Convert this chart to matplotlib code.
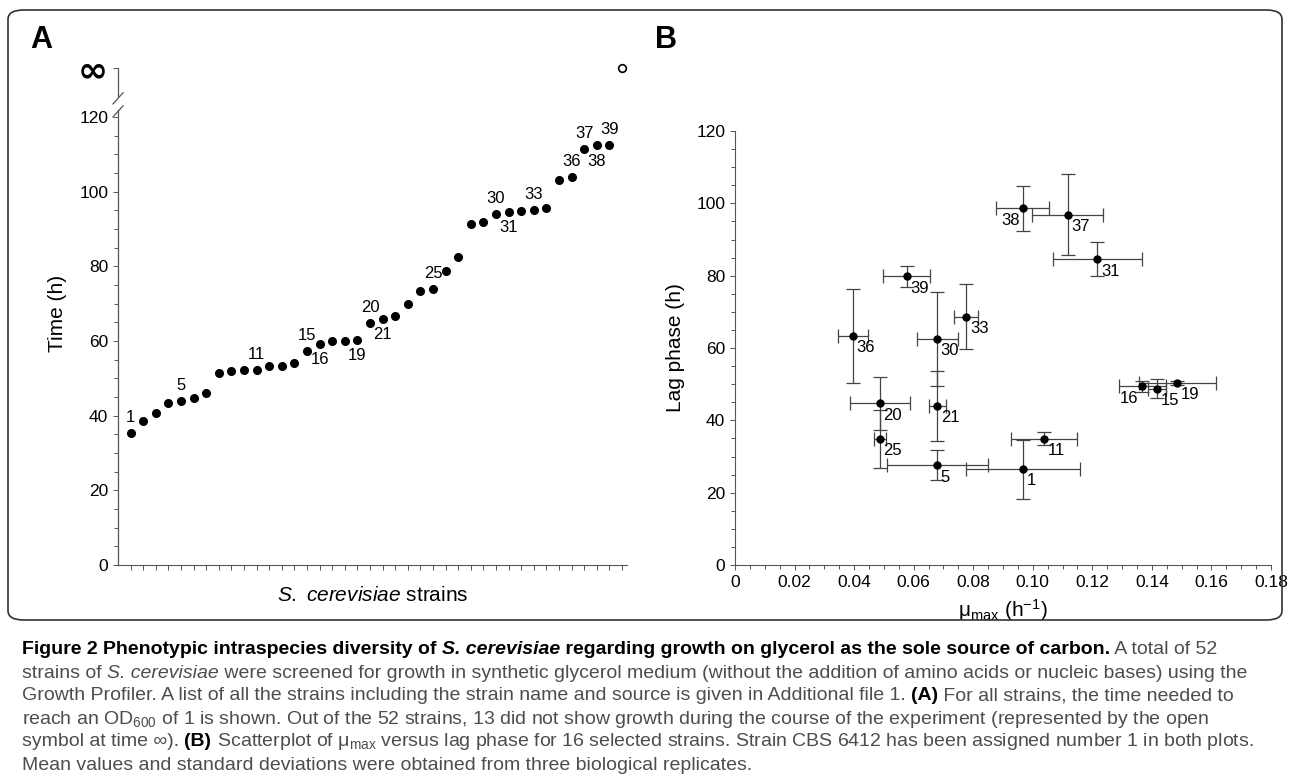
import numpy as np
import matplotlib.pyplot as plt
from matplotlib.patches import FancyBboxPatch

plt.rcParams['font.family'] = ['Liberation Sans', 'DejaVu Sans']
plt.rcParams['mathtext.fontset'] = 'custom'
plt.rcParams['mathtext.rm'] = 'Liberation Sans'
plt.rcParams['mathtext.it'] = 'Liberation Sans:italic'
plt.rcParams['mathtext.bf'] = 'Liberation Sans:bold'

# Panel A: time to OD600 = 1 for the strains that grew (rank order)
strain_rank = np.arange(1, 40)
time_h = [35.3, 38.7, 40.7, 43.4, 44.0, 44.8, 46.0, 51.3, 51.9, 52.1,
          52.2, 53.3, 53.3, 54.1, 57.3, 59.3, 60.0, 60.1, 60.3, 64.8,
          66.0, 66.7, 70.0, 73.3, 74.0, 78.7, 82.6, 91.3, 91.9, 93.9,
          94.6, 94.9, 95.1, 95.5, 103.2, 104.0, 111.3, 112.4, 112.4]
labels_above = [1, 5, 11, 15, 20, 25, 30, 33, 36, 37, 39]
labels_below = [16, 19, 21, 31, 38]
no_growth_pos = 40
INF = 133.2

# Panel B: mu_max vs lag phase
b_id = [38, 37, 31, 39, 33, 36, 30, 20, 21, 25, 5, 1, 11, 16, 15, 19]
mu = [0.0967, 0.1117, 0.1217, 0.0577, 0.0777, 0.0397, 0.0679, 0.0487,
      0.0679, 0.0487, 0.0679, 0.0967, 0.1037, 0.1367, 0.1417, 0.1486]
mu_sd = [0.0089, 0.012, 0.015, 0.0079, 0.004, 0.005, 0.0069, 0.010,
         0.0029, 0.002, 0.017, 0.019, 0.011, 0.0079, 0.003, 0.013]
lag = [98.6, 96.8, 84.5, 79.8, 68.6, 63.4, 62.5, 44.7,
       44.0, 34.9, 27.6, 26.5, 34.9, 49.4, 48.7, 50.4]
lag_sd = [6.3, 11.2, 4.7, 2.8, 9.0, 13.0, 12.9, 7.4,
          9.6, 8.0, 4.2, 8.2, 1.8, 1.5, 2.6, 0.5]
left_labels = [38, 16]

W, H = 1290, 784
fig = plt.figure(figsize=(W / 100, H / 100), dpi=100)

box = FancyBboxPatch((8 / W, 1 - 620 / H), 1274 / W, 610 / H,
                     boxstyle="round,pad=0,rounding_size=0.012",
                     transform=fig.transFigure, fill=False, lw=1.2, ec='#333333')
fig.patches.append(box)

tick_kw = dict(labelsize=12.5, width=0.7, color='#555555')

# ---- panel A
axA = fig.add_axes([118 / W, 1 - 565 / H, 509 / W, (565 - 61) / H])
axA.plot(strain_rank, time_h, 'o', color='k', ms=5.5)
axA.plot([no_growth_pos], [INF], 'o', mfc='white', mec='k', ms=5.5, mew=1.2)
for n, t in zip(strain_rank, time_h):
    if n in labels_above:
        axA.text(n, t + 2.2, str(n), ha='center', va='bottom', fontsize=12)
    elif n in labels_below:
        axA.text(n, t - 2.2, str(n), ha='center', va='top', fontsize=12)
axA.set_xlim(0, 40.4)
axA.set_ylim(0, 135)
axA.set_xticks(np.arange(1, 41))
axA.set_xticklabels([])
axA.set_yticks([0, 20, 40, 60, 80, 100, 120, INF])
axA.set_yticks(np.arange(0, 125, 5), minor=True)
axA.tick_params(**tick_kw)
axA.tick_params(which='minor', length=3, width=0.7, color='#555555')
axA.set_yticklabels(['0', '20', '40', '60', '80', '100', '120', '∞'])
inf_lbl = axA.get_yticklabels()[-1]
inf_lbl.set_fontsize(26)
inf_lbl.set_fontfamily(['DejaVu Sans'])
inf_lbl.set_fontweight('bold')
for s in ['top', 'right', 'left']:
    axA.spines[s].set_visible(False)
axA.spines['bottom'].set_color('#555555')
axA.plot([0, 0], [0, 122], color='#555555', lw=0.9, clip_on=False)
axA.plot([0, 0], [125.5, INF], color='#555555', lw=0.9, clip_on=False)
for yb in (121.5, 125):
    axA.plot([-0.4, 0.4], [yb - 1.5, yb + 1.5], color='#555555', lw=0.9, clip_on=False)
axA.set_ylabel('Time (h)', fontsize=15, labelpad=8)
axA.set_xlabel('$\\it{S.}$ $\\it{cerevisiae}$ strains', fontsize=15, labelpad=8)

# ---- panel B
axB = fig.add_axes([735 / W, 1 - 565 / H, 536 / W, (565 - 131) / H])
axB.errorbar(mu, lag, xerr=mu_sd, yerr=lag_sd, fmt='o', color='k', ms=5,
             ecolor='#444444', elinewidth=0.9, capsize=5, capthick=0.9)
for i, m, l in zip(b_id, mu, lag):
    if i in left_labels:
        axB.text(m - 0.0012, l - 1.2, str(i), ha='right', va='top', fontsize=12)
    else:
        axB.text(m + 0.0012, l - 1.2, str(i), ha='left', va='top', fontsize=12)
axB.set_xlim(0, 0.18)
axB.set_ylim(0, 120)
axB.set_xticks(np.arange(0, 0.181, 0.02))
axB.set_xticklabels(['0'] + ['%.2f' % v for v in np.arange(0.02, 0.181, 0.02)])
axB.set_xticks(np.arange(0, 0.181, 0.005), minor=True)
axB.set_yticks(np.arange(0, 121, 20))
axB.set_yticks(np.arange(0, 121, 5), minor=True)
axB.tick_params(**tick_kw)
axB.tick_params(which='minor', length=3, width=0.7, color='#555555')
for s in ['top', 'right']:
    axB.spines[s].set_visible(False)
for s in ['left', 'bottom']:
    axB.spines[s].set_color('#555555')
axB.set_ylabel('Lag phase (h)', fontsize=15, labelpad=8)
axB.set_xlabel('μ$_{\\mathrm{max}}$ (h$^{-1}$)', fontsize=15, labelpad=5)

fig.text(30 / W, 1 - 40 / H, 'A', fontsize=22, fontweight='bold', va='center')
fig.text(655 / W, 1 - 40 / H, 'B', fontsize=22, fontweight='bold', va='center')

# ---- caption
caption = [
    [("Figure 2 Phenotypic intraspecies diversity of ", 'bold', 'normal'),
     ("S. cerevisiae", 'bold', 'italic'),
     (" regarding growth on glycerol as the sole source of carbon.", 'bold', 'normal'),
     (" A total of 52", 'normal', 'normal')],
    [("strains of ", 'normal', 'normal'), ("S. cerevisiae", 'normal', 'italic'),
     (" were screened for growth in synthetic glycerol medium (without the addition of amino acids or nucleic bases) using the", 'normal', 'normal')],
    [("Growth Profiler. A list of all the strains including the strain name and source is given in Additional file 1. ", 'normal', 'normal'),
     ("(A)", 'bold', 'normal'), (" For all strains, the time needed to", 'normal', 'normal')],
    [("reach an OD$_{600}$ of 1 is shown. Out of the 52 strains, 13 did not show growth during the course of the experiment (represented by the open", 'normal', 'normal')],
    [("symbol at time ∞). ", 'normal', 'normal'), ("(B)", 'bold', 'normal'),
     (" Scatterplot of μ$_{\\mathrm{max}}$ versus lag phase for 16 selected strains. Strain CBS 6412 has been assigned number 1 in both plots.", 'normal', 'normal')],
    [("Mean values and standard deviations were obtained from three biological replicates.", 'normal', 'normal')],
]
renderer = fig.canvas.get_renderer()
for k, line in enumerate(caption):
    x = 22
    y = 1 - (650 + 23 * k) / H
    for txt, wt, st in line:
        color = 'black' if wt == 'bold' else '#4d4d4d'
        t = fig.text(x / W, y, txt, fontsize=14, fontweight=wt, style=st,
                     color=color, va='center', ha='left')
        bb = t.get_window_extent(renderer)
        x += bb.width

fig.savefig('out.png', dpi=100)
